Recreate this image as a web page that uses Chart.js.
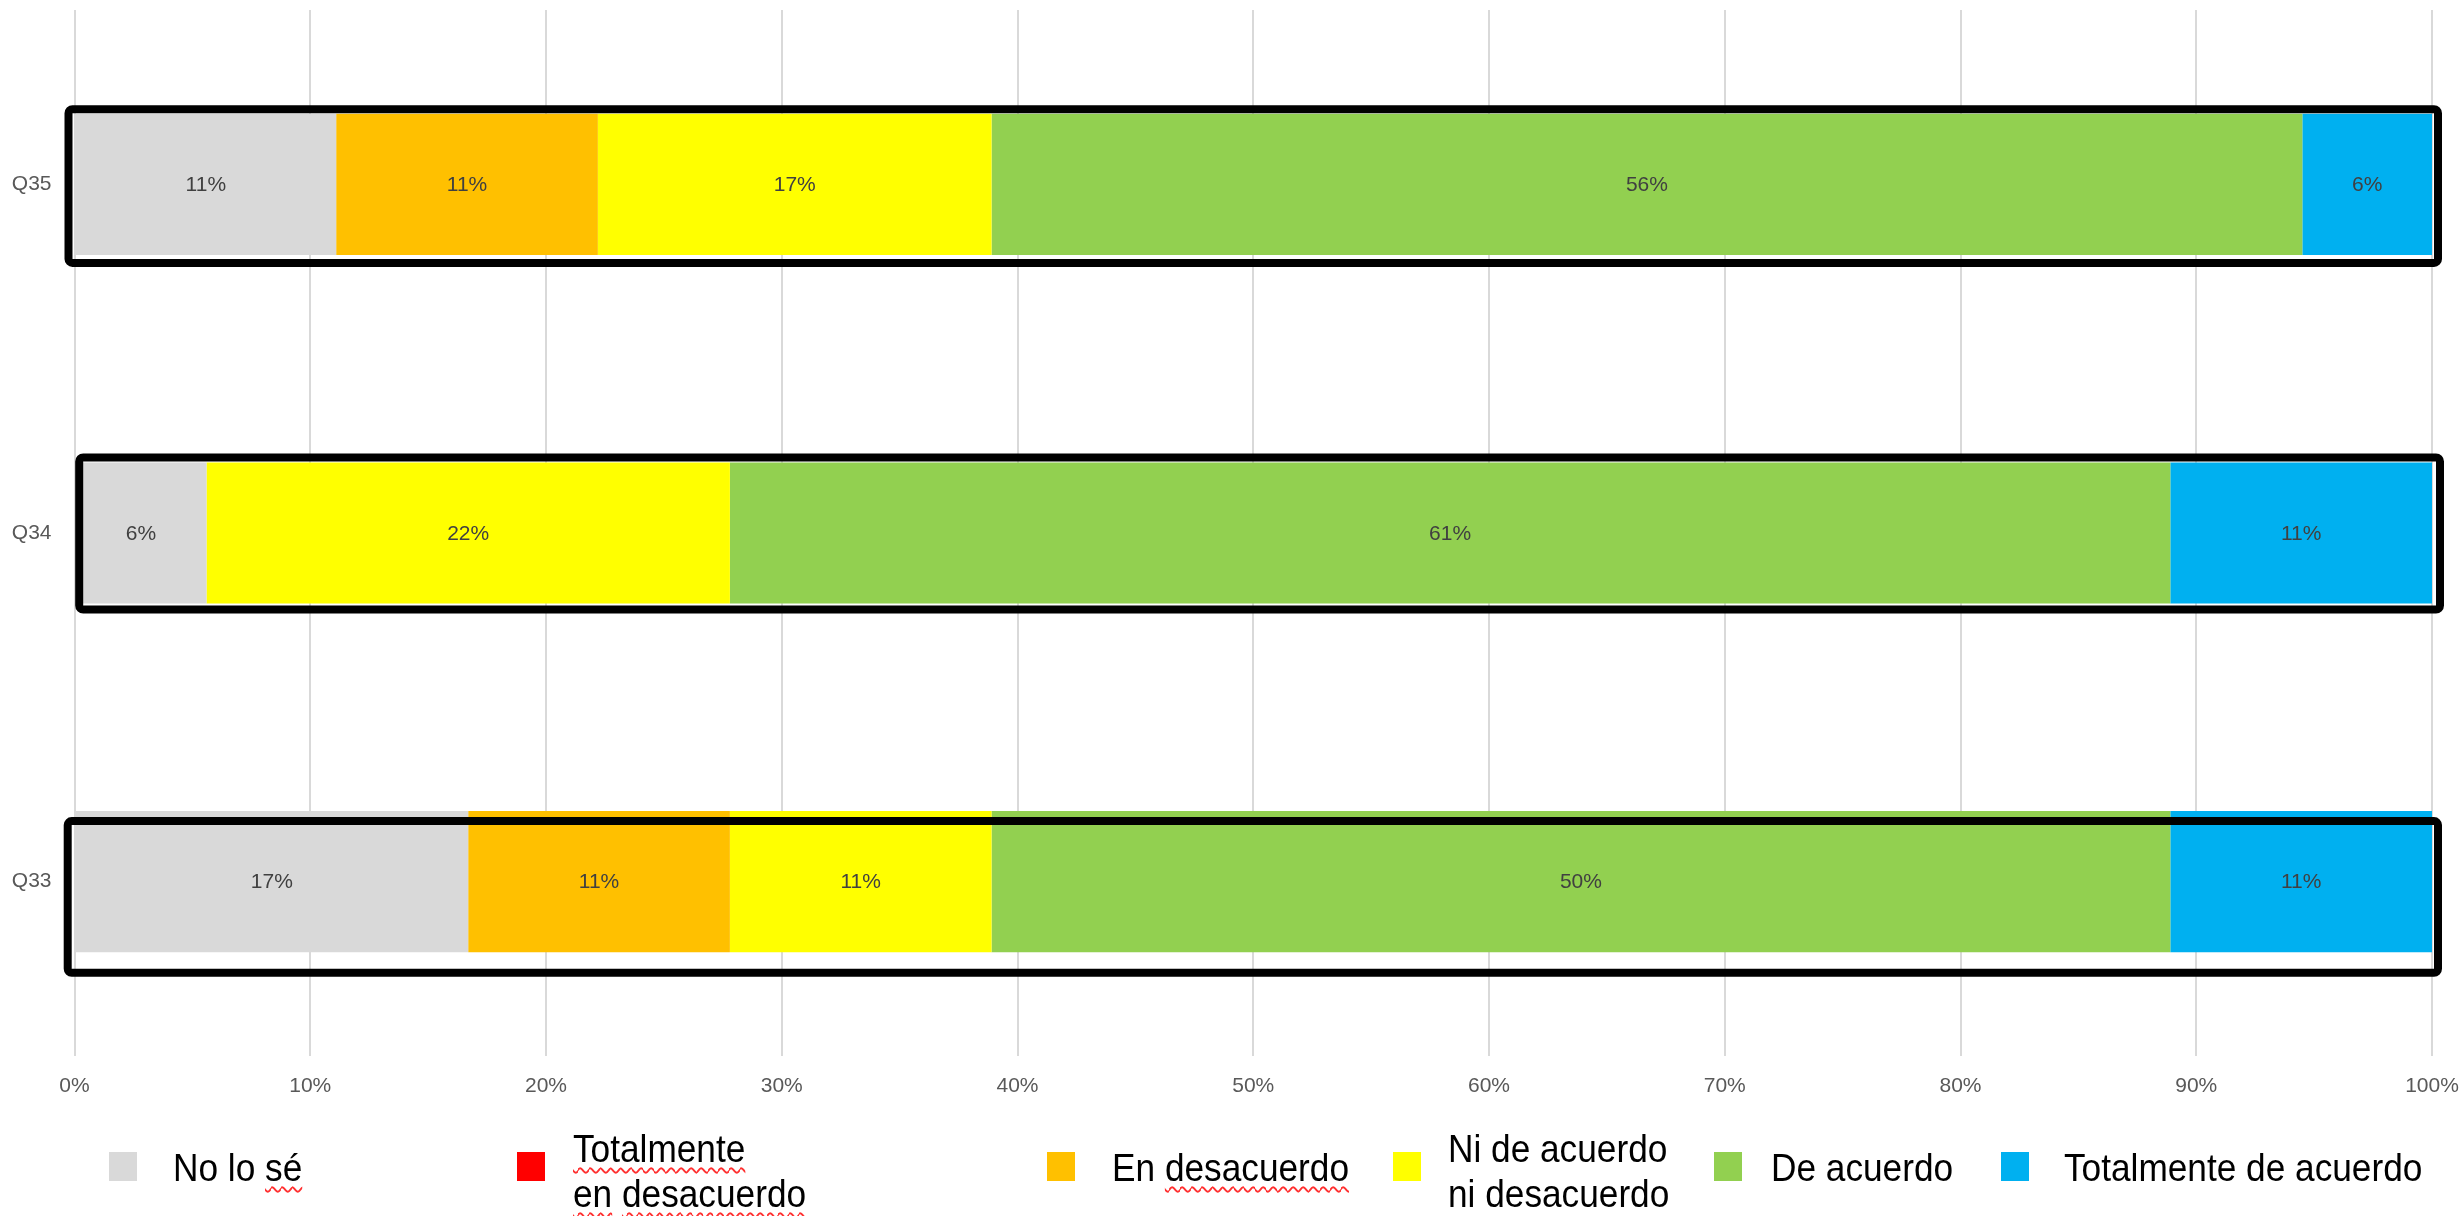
<!DOCTYPE html>
<html>
<head>
<meta charset="utf-8">
<script src="https://cdn.jsdelivr.net/npm/chart.js@4.4.1/dist/chart.umd.min.js"></script>
<style>
html,body{margin:0;padding:0;background:#fff;overflow:hidden}
#wrap{position:relative;width:2463px;height:1216px}
canvas{position:absolute;left:0;top:0}
.sw{position:absolute;width:28px;height:29px;top:1152px}
.lt{position:absolute;font-family:'Liberation Sans',Arial,sans-serif;font-size:38.5px;line-height:45px;color:#000;white-space:nowrap;transform:scaleX(0.915);transform-origin:0 0}
.sp{text-decoration:underline wavy #ff3030;text-decoration-thickness:1.5px;text-underline-offset:5px;text-decoration-skip-ink:none}
</style>
</head>
<body>
<div id="wrap">
  <canvas id="c" width="2463" height="1216"></canvas>
  <div id="legend"></div>
</div>
<script>
// ---- data ----
const categories = ['Q35', 'Q34', 'Q33'];
const seriesNames = ['No lo sé', 'Totalmente en desacuerdo', 'En desacuerdo', 'Ni de acuerdo ni desacuerdo', 'De acuerdo', 'Totalmente de acuerdo'];
const seriesColors = ['#D9D9D9', '#FF0000', '#FFC000', '#FFFF00', '#92D050', '#00B0F0'];
const noLoSe       = [11.1, 5.6, 16.7];
const totDesac     = [0, 0, 0];
const enDesac      = [11.1, 0, 11.1];
const niNi         = [16.7, 22.2, 11.1];
const deAcuerdo    = [55.6, 61.1, 50.0];
const totAcuerdo   = [5.5, 11.1, 11.1];
const seriesValues = [noLoSe, totDesac, enDesac, niNi, deAcuerdo, totAcuerdo];
const xTickValues  = [0, 10, 20, 30, 40, 50, 60, 70, 80, 90, 100];

// ---- annotation boxes (offsets of the box stroke centre from bar edges: left, top, right, bottom) ----
const boxOffsets = [
  [-6, -4.5, 6, 8],
  [4.7, -5, 8, 6],
  [-6.8, 10, 6, 20.5]
];

const FONT = "'Liberation Sans', Arial, sans-serif";
Chart.defaults.font.family = FONT;

const valueLabels = {
  id: 'valueLabels',
  afterDatasetsDraw(chart) {
    const ctx = chart.ctx;
    ctx.save();
    ctx.font = '21px ' + FONT;
    ctx.fillStyle = '#404040';
    ctx.textAlign = 'center';
    ctx.textBaseline = 'middle';
    chart.data.datasets.forEach((ds, di) => {
      const meta = chart.getDatasetMeta(di);
      meta.data.forEach((el, i) => {
        const v = ds.data[i];
        if (!v) return;
        ctx.fillText(Math.round(v) + '%', (el.x + el.base) / 2, el.y + 1);
      });
    });
    ctx.restore();
  }
};

const boxes = {
  id: 'boxes',
  afterDatasetsDraw(chart) {
    const ctx = chart.ctx, xs = chart.scales.x;
    const meta = chart.getDatasetMeta(0);
    ctx.save();
    ctx.strokeStyle = '#000';
    ctx.lineWidth = 8;
    ctx.lineJoin = 'round';
    meta.data.forEach((el, i) => {
      const o = boxOffsets[i];
      const l = xs.getPixelForValue(0) + o[0];
      const r = xs.getPixelForValue(100) + o[2];
      const t = el.y - el.height / 2 + o[1];
      const b = el.y + el.height / 2 + o[3];
      ctx.beginPath();
      ctx.roundRect(l, t, r - l, b - t, 4);
      ctx.stroke();
    });
    ctx.restore();
  }
};

function noPad(s) { s.paddingLeft = 0; s.paddingRight = 0; s.paddingTop = 0; s.paddingBottom = 0; }

new Chart(document.getElementById('c'), {
  type: 'bar',
  data: {
    labels: categories,
    datasets: seriesNames.map((n, i) => ({
      label: n,
      data: seriesValues[i],
      backgroundColor: seriesColors[i],
      borderWidth: 0,
      barPercentage: 0.405,
      categoryPercentage: 1
    }))
  },
  options: {
    indexAxis: 'y',
    responsive: false,
    devicePixelRatio: 1,
    animation: false,
    layout: { padding: { top: 10, right: 31, bottom: 100, left: 0 } },
    plugins: { legend: { display: false }, tooltip: { enabled: false } },
    scales: {
      x: {
        stacked: true,
        min: 0, max: 100,
        afterBuildTicks(s) { s.ticks = xTickValues.map(v => ({ value: v })); },
        afterFit(s) { s.height = 60; noPad(s); },
        grid: { color: '#D9D9D9', lineWidth: 2, drawTicks: false },
        border: { display: false },
        ticks: { padding: 18, color: '#595959', font: { size: 21 }, callback: v => v + '%' }
      },
      y: {
        stacked: true,
        afterFit(s) { s.width = 74.5; noPad(s); },
        grid: { display: false, drawTicks: false },
        border: { display: false },
        ticks: { padding: 23, color: '#595959', font: { size: 21 } }
      }
    }
  },
  plugins: [valueLabels, boxes]
});

// ---- HTML legend ----
const legendLayout = [
  { sq: 109,  tx: 173,  lines: ['No lo <span class="sp">sé</span>'] },
  { sq: 517,  tx: 573,  lines: ['<span class="sp">Totalmente</span>', '<span class="sp">en</span> <span class="sp">desacuerdo</span>'] },
  { sq: 1047, tx: 1112, lines: ['En <span class="sp">desacuerdo</span>'] },
  { sq: 1393, tx: 1448, lines: ['Ni de acuerdo', 'ni desacuerdo'] },
  { sq: 1714, tx: 1771, lines: ['De acuerdo'] },
  { sq: 2001, tx: 2064, lines: ['Totalmente de acuerdo'] }
];
const lg = document.getElementById('legend');
legendLayout.forEach((it, i) => {
  const sw = document.createElement('div');
  sw.className = 'sw';
  sw.style.left = it.sq + 'px';
  sw.style.background = seriesColors[i];
  lg.appendChild(sw);
  const t = document.createElement('div');
  t.className = 'lt';
  t.style.left = it.tx + 'px';
  t.style.top = (it.lines.length === 1 ? 1145 : 1126) + 'px';
  t.innerHTML = it.lines.join('<br>');
  t.title = seriesNames[i];
  lg.appendChild(t);
});
</script>
</body>
</html>
